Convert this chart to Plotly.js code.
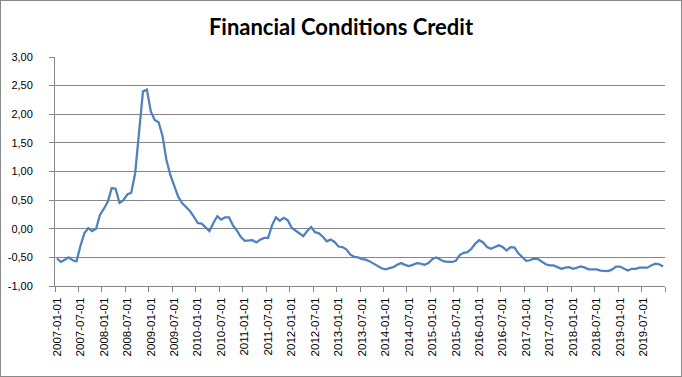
<!DOCTYPE html>
<html>
<head>
<meta charset="utf-8">
<script src="https://cdn.plot.ly/plotly-3.0.0.min.js"></script>
<style>
  html, body { margin: 0; padding: 0; background: #fff; }
  #wrap { position: absolute; left: 0; top: 0; width: 680px; height: 375px; border: 1px solid #898989; }
  #chart { width: 680px; height: 375px; }
</style>
</head>
<body>
<div id="wrap"><div id="chart"></div></div>
<script>
const startYear = 2007;
const monthCount = 156;

const values = [
  -0.52, -0.58, -0.54, -0.50, -0.55, -0.57, -0.30, -0.08, 0.01, -0.04, 0.00, 0.24,
  0.35, 0.47, 0.71, 0.70, 0.45, 0.50, 0.60, 0.63, 0.97, 1.70, 2.40, 2.43,
  2.05, 1.90, 1.86, 1.62, 1.20, 0.94, 0.73, 0.56, 0.45, 0.38, 0.31, 0.21,
  0.10, 0.09, 0.03, -0.04, 0.10, 0.22, 0.16, 0.20, 0.20, 0.06, -0.03, -0.14,
  -0.21, -0.21, -0.20, -0.24, -0.19, -0.16, -0.16, 0.06, 0.20, 0.14, 0.19, 0.15,
  0.02, -0.03, -0.08, -0.13, -0.04, 0.03, -0.06, -0.08, -0.14, -0.22, -0.19, -0.23,
  -0.31, -0.32, -0.36, -0.45, -0.49, -0.50, -0.53, -0.54, -0.57, -0.61, -0.66, -0.69,
  -0.71, -0.69, -0.67, -0.63, -0.60, -0.63, -0.65, -0.63, -0.60, -0.61, -0.63, -0.60,
  -0.53, -0.50, -0.54, -0.57, -0.58, -0.58, -0.56, -0.46, -0.42, -0.41, -0.35, -0.26,
  -0.20, -0.24, -0.32, -0.35, -0.32, -0.29, -0.32, -0.38, -0.32, -0.33, -0.43, -0.50,
  -0.56, -0.55, -0.52, -0.53, -0.57, -0.62, -0.64, -0.64, -0.67, -0.70, -0.68, -0.67,
  -0.70, -0.68, -0.66, -0.68, -0.71, -0.71, -0.71, -0.73, -0.74, -0.74, -0.71, -0.66,
  -0.66, -0.70, -0.73, -0.70, -0.70, -0.68, -0.68, -0.68, -0.64, -0.61, -0.62, -0.66
];

const categories = [];
for (let i = 0; i < monthCount; i++) {
  const y = startYear + Math.floor(i / 12);
  const m = (i % 12) + 1;
  categories.push(y + '-' + (m < 10 ? '0' + m : m) + '-01');
}

const yTickVals = [-1, -0.5, 0, 0.5, 1, 1.5, 2, 2.5, 3];
const yTickText = ['-1,00', '-0,50', '0,00', '0,50', '1,00', '1,50', '2,00', '2,50', '3,00'];

const trace = {
  type: 'scatter',
  mode: 'lines',
  x: categories,
  y: values,
  line: { color: '#4F81BD', width: 2.25 },
  hoverinfo: 'skip'
};

const layout = {
  width: 680,
  height: 375,
  margin: { l: 54.3, r: 16, t: 56.2, b: 90.1, pad: 0 },
  paper_bgcolor: '#ffffff',
  plot_bgcolor: '#ffffff',
  showlegend: false,
  title: {
    text: 'Financial Conditions Credit',
    font: { family: 'Lato, sans-serif', size: 22, color: '#000000', weight: 'bold' },
    x: 0.5, xanchor: 'center',
    y: 1 - 26 / 375, yanchor: 'middle', yref: 'container'
  },
  xaxis: {
    type: 'category',
    range: [-0.5, monthCount - 0.5],
    tickmode: 'linear',
    tick0: 0,
    dtick: 6,
    tickson: 'boundaries',
    ticks: 'outside',
    ticklen: 5,
    tickcolor: '#868686',
    tickwidth: 1,
    tickangle: -90,
    ticklabelstandoff: 6,
    tickfont: { family: 'Liberation Sans, Arial, sans-serif', size: 11.5, color: '#000000' },
    showgrid: false,
    showline: true,
    linecolor: '#868686',
    linewidth: 1,
    zeroline: false,
    fixedrange: true
  },
  yaxis: {
    range: [-1, 3],
    tickmode: 'array',
    tickvals: yTickVals,
    ticktext: yTickText,
    ticks: 'outside',
    ticklen: 5,
    tickcolor: '#868686',
    tickwidth: 1,
    ticklabelstandoff: 14,
    tickfont: { family: 'Liberation Sans, Arial, sans-serif', size: 11, color: '#000000' },
    showgrid: true,
    gridcolor: '#868686',
    gridwidth: 1,
    showline: true,
    linecolor: '#868686',
    linewidth: 1,
    zeroline: false,
    fixedrange: true
  }
};

Plotly.newPlot('chart', [trace], layout, { displayModeBar: false, staticPlot: true });
</script>
</body>
</html>
